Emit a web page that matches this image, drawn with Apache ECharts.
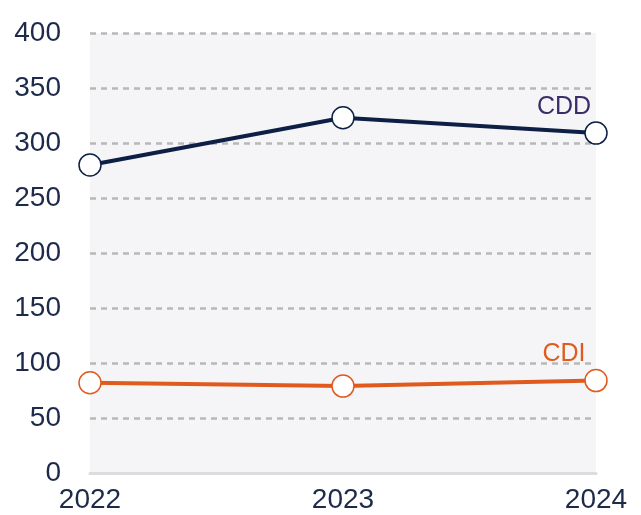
<!DOCTYPE html>
<html>
<head>
<meta charset="utf-8">
<script src="https://cdn.jsdelivr.net/npm/echarts@6/dist/echarts.min.js"></script>
<style>
    html, body { margin: 0; padding: 0; background: #fff; }
    #chart { width: 641px; height: 515px; }
</style>
</head>
<body>
<div id="chart"></div>
<script>
const years = ['2022', '2023', '2024'];
const cddValues = [280, 323, 309];
const cdiValues = [82, 79, 84];
const yTicks = [0, 50, 100, 150, 200, 250, 300, 350, 400];

function withEndLabel(values, name, color) {
    return values.map(function (v, i) {
        if (i !== values.length - 1) {
            return v;
        }
        return {
            value: v,
            label: {
                show: true,
                formatter: name,
                position: 'top',
                offset: [-32, 3],
                color: color,
                fontSize: 25,
                fontFamily: 'Liberation Sans'
            }
        };
    });
}

const chart = echarts.init(document.getElementById('chart'));
chart.setOption({
    animation: false,
    grid: {
        left: 90,
        right: 45,
        top: 33,
        bottom: 42,
        show: true,
        backgroundColor: '#f5f5f8',
        borderWidth: 0
    },
    xAxis: {
        type: 'category',
        boundaryGap: false,
        data: years,
        axisLine: { lineStyle: { color: '#dcdcdf', width: 3 } },
        axisTick: { show: false },
        axisLabel: {
            color: '#1e2a4a',
            fontSize: 28,
            fontFamily: 'Liberation Sans',
            margin: 13
        },
        splitLine: { show: false }
    },
    yAxis: {
        type: 'value',
        min: yTicks[0],
        max: yTicks[yTicks.length - 1],
        interval: 50,
        axisLine: { show: false },
        axisTick: { show: false },
        axisLabel: {
            color: '#1e2a4a',
            fontSize: 28,
            fontFamily: 'Liberation Sans',
            margin: 29
        },
        splitLine: {
            lineStyle: { color: '#b8b8b8', width: 2.5, type: [6, 5] }
        }
    },
    series: [{
        name: 'CDD',
        type: 'line',
        data: withEndLabel(cddValues, 'CDD', '#3b2d6b'),
        symbol: 'circle',
        symbolSize: 22,
        lineStyle: { color: '#0d1f45', width: 4 },
        itemStyle: { color: '#ffffff', borderColor: '#0d1f45', borderWidth: 1.5 }
    }, {
        name: 'CDI',
        type: 'line',
        data: withEndLabel(cdiValues, 'CDI', '#e05a1f'),
        symbol: 'circle',
        symbolSize: 22,
        lineStyle: { color: '#e05a1f', width: 4 },
        itemStyle: { color: '#ffffff', borderColor: '#e05a1f', borderWidth: 1.5 }
    }]
});
</script>
</body>
</html>
